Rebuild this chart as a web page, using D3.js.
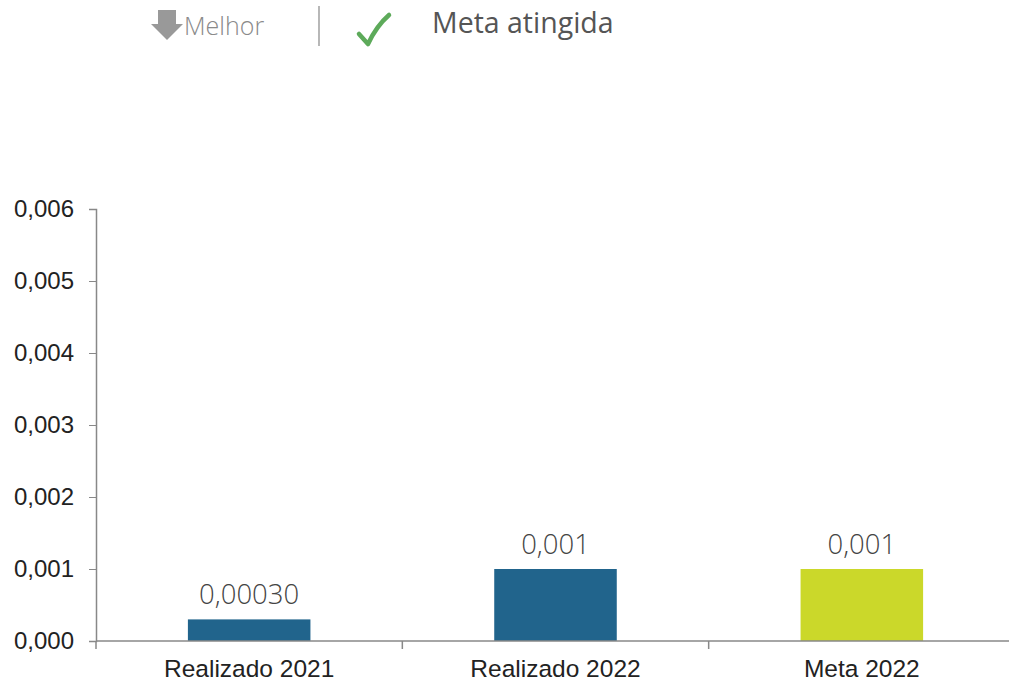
<!DOCTYPE html>
<html>
<head>
<meta charset="utf-8">
<script src="https://cdn.jsdelivr.net/npm/d3@7"></script>
<style>
  body { margin: 0; background: #fff; }
  svg { display: block; }
</style>
</head>
<body>
<div id="chart"></div>
<script>
// ==== Data ====
const categories = ["Realizado 2021", "Realizado 2022", "Meta 2022"];
const values = [0.0003, 0.001, 0.001];
const valueLabels = ["0,00030", "0,001", "0,001"];
const barColors = ["#21648c", "#21648c", "#cbd82a"];
const yTicks = [0, 0.001, 0.002, 0.003, 0.004, 0.005, 0.006];

// ==== Initialization ====
const W = 1009, H = 683;
const margin = { top: 209, right: -6, bottom: 42, left: 96 };
const width = W - margin.left - margin.right;
const height = H - margin.top - margin.bottom;

const root = d3.select("#chart")
    .append("svg")
    .attr("width", W)
    .attr("height", H);

// === Header ===
const header = root.append("g");
header.append("path")
    .attr("d", "M158,10 H176 V24 H183 L167,40 L151,24 H158 Z")
    .attr("fill", "#999");
header.append("text")
    .attr("x", 184).attr("y", 35)
    .attr("font-family", "'Open Sans', sans-serif")
    .attr("font-weight", 300)
    .attr("font-size", 25)
    .attr("fill", "#8a8a8a")
    .text("Melhor");
header.append("line")
    .attr("x1", 319).attr("x2", 319)
    .attr("y1", 6).attr("y2", 46)
    .attr("stroke", "#888").attr("stroke-width", 1.2);
header.append("path")
    .attr("d", "M359,34 L368,44 C374,31 381,22 389,15")
    .attr("fill", "none")
    .attr("stroke", "#5daa5a")
    .attr("stroke-width", 4.5)
    .attr("stroke-linecap", "round")
    .attr("stroke-linejoin", "round");
header.append("text")
    .attr("x", 432).attr("y", 33)
    .attr("font-family", "'Open Sans', sans-serif")
    .attr("font-size", 28.5)
    .attr("fill", "#555")
    .text("Meta atingida");

const svg = root.append("g")
    .attr("transform", `translate(${margin.left},${margin.top})`);

// === Scales ===
const xScale = d3.scaleBand()
    .domain(categories)
    .range([0, width])
    .paddingInner(0.6)
    .paddingOuter(0.3);

const xTickScale = d3.scaleBand()
    .domain(categories)
    .range([0, width]);

const yScale = d3.scaleLinear()
    .domain([0, 0.006])
    .range([height, 0]);

// === Axes ===
const fmt = v => d3.format(".3f")(v).replace(".", ",");

const yAxis = d3.axisLeft(yScale)
    .tickValues(yTicks)
    .tickFormat(fmt)
    .tickSize(7)
    .tickPadding(15);

const yG = svg.append("g").attr("class", "axis y-axis").call(yAxis);
yG.select(".domain").attr("stroke", "#888").attr("stroke-width", 1.5);
yG.selectAll(".tick line").attr("stroke", "#888");
yG.selectAll(".tick text")
    .attr("font-family", "'Liberation Sans', Arial, sans-serif")
    .attr("font-size", 24)
    .attr("fill", "#222");

// bars
svg.selectAll(".bar")
    .data(categories)
    .join("rect")
    .attr("class", "bar")
    .attr("x", d => xScale(d))
    .attr("width", xScale.bandwidth())
    .attr("y", (d, i) => yScale(values[i]))
    .attr("height", (d, i) => height - yScale(values[i]))
    .attr("fill", (d, i) => barColors[i]);

// value labels
svg.selectAll(".val")
    .data(categories)
    .join("text")
    .attr("class", "val")
    .attr("x", d => xScale(d) + xScale.bandwidth() / 2)
    .attr("y", (d, i) => yScale(values[i]) - 15)
    .attr("text-anchor", "middle")
    .attr("font-family", "'Open Sans', sans-serif")
    .attr("font-weight", 300)
    .attr("font-size", 27.5)
    .attr("fill", "#444")
    .text((d, i) => valueLabels[i]);

// x axis line and boundary ticks
const xG = svg.append("g")
    .attr("class", "axis x-axis")
    .attr("transform", `translate(0,${height})`);
xG.append("line")
    .attr("x1", 0).attr("x2", width)
    .attr("stroke", "#888").attr("stroke-width", 1.5);
xG.selectAll(".xtick")
    .data(categories)
    .join("line")
    .attr("class", "xtick")
    .attr("x1", d => xTickScale(d)).attr("x2", d => xTickScale(d))
    .attr("y1", 0).attr("y2", 8)
    .attr("stroke", "#888").attr("stroke-width", 1.5);
xG.selectAll(".xlabel")
    .data(categories)
    .join("text")
    .attr("class", "xlabel")
    .attr("x", d => xScale(d) + xScale.bandwidth() / 2)
    .attr("y", 36)
    .attr("text-anchor", "middle")
    .attr("font-family", "'Liberation Sans', Arial, sans-serif")
    .attr("font-size", 24.5)
    .attr("fill", "#222")
    .text(d => d);
</script>
</body>
</html>
